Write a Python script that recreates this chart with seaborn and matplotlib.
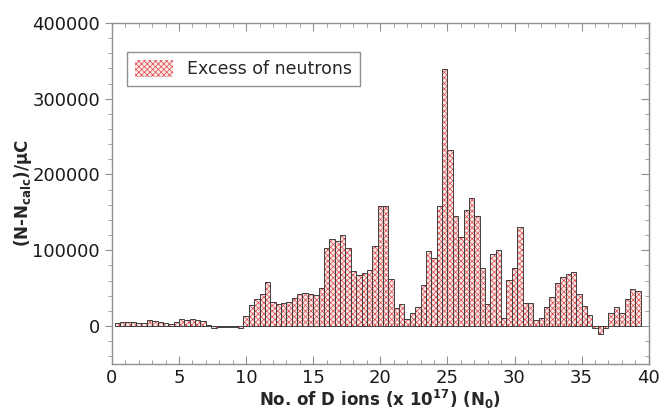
import numpy as np
import pandas as pd
import matplotlib
matplotlib.use('Agg')
import matplotlib.pyplot as plt
from matplotlib.ticker import MultipleLocator
import seaborn as sns

# bar centres: 0.4 .. 39.2 (units of 10^17 D ions), bin width 0.4
ions = np.round(np.arange(1, 99) * 0.4, 1)

excess = [4400, 5300, 5700, 5700, 4400, 4400, 7900, 7000, 5300, 4400,
          2600, 5700, 8800, 7900, 8800, 7900, 6600, 900, -2200, -1800,
          -1800, -1800, -1800, -3100, 13200, 28100, 35100, 43000, 58300, 32000,
          29400, 30700, 32000, 37300, 43000, 43900, 41700, 40400, 50400, 103000,
          115400, 111800, 120200, 103000, 72400, 67100, 70200, 74600, 105300, 158800,
          157900, 62300, 24100, 28500, 9600, 17500, 25400, 54800, 98700, 89900,
          158800, 339000, 232500, 144700, 117500, 153500, 168900, 144700, 76800, 28500,
          95200, 100000, 11000, 61400, 76800, 130700, 30300, 30300, 7900, 11000,
          25000, 38600, 57000, 64500, 69300, 71500, 41700, 26300, 14000, -2200,
          -10100, -2200, 17500, 25000, 16700, 35500, 49100, 46900]

df = pd.DataFrame({'ions': ions, 'excess': excess})

sns.set_style('white')
plt.rcParams['font.family'] = ['DejaVu Sans']
plt.rcParams['hatch.linewidth'] = 0.5

fig = plt.figure(figsize=(6.62, 4.16), dpi=100)
ax = fig.add_axes([0.169, 0.125, 0.811, 0.820])

# hatched fill
sns.barplot(data=df, x='ions', y='excess', native_scale=True, width=1,
            color='#fbe6e6', edgecolor='#e04848', hatch='xxxxxx', linewidth=0,
            errorbar=None, label='Excess of neutrons', ax=ax)
# dark outlines
sns.barplot(data=df, x='ions', y='excess', native_scale=True, width=1,
            fill=False, edgecolor='#404040', linewidth=0.7,
            errorbar=None, ax=ax)

ax.set_xlim(0, 40)
ax.set_ylim(-50000, 400000)
ax.xaxis.set_major_locator(MultipleLocator(5))
ax.xaxis.set_minor_locator(MultipleLocator(1))
ax.yaxis.set_major_locator(MultipleLocator(100000))
ax.yaxis.set_minor_locator(MultipleLocator(20000))

for s in ax.spines.values():
    s.set_color('#909090')
    s.set_linewidth(1.0)

ax.tick_params(axis='both', which='both', colors='#909090', labelcolor='#1a1a1a',
               labelsize=13)
ax.tick_params(axis='x', which='both', direction='in', top=True, bottom=True)
ax.tick_params(axis='x', which='major', length=6)
ax.tick_params(axis='x', which='minor', length=3)
ax.tick_params(axis='y', which='both', direction='out', left=True, right=False)
ax.tick_params(axis='y', which='major', length=5)
ax.tick_params(axis='y', which='minor', length=3)
ax2 = ax.secondary_yaxis('right')
ax2.yaxis.set_major_locator(MultipleLocator(100000))
ax2.yaxis.set_minor_locator(MultipleLocator(20000))
ax2.tick_params(which='both', direction='in', colors='#909090', labelright=False)
ax2.tick_params(which='major', length=6)
ax2.tick_params(which='minor', length=3)
ax2.spines['right'].set_color('#909090')

ax.set_xlabel(r'No. of D ions (x 10$^{\mathbf{17}}$) (N$_{\mathbf{0}}$)',
              fontsize=12, fontweight='bold', labelpad=1)
ax.set_ylabel(r'(N-N$_{\mathbf{calc}}$)/μC', fontsize=12, fontweight='bold',
              labelpad=-1)

leg = ax.legend(loc='upper left', bbox_to_anchor=(0.012, 0.94), fontsize=12.5,
                fancybox=False, edgecolor='#909090', framealpha=1,
                handlelength=2.2, handleheight=1.1, borderpad=0.45)
leg.get_frame().set_linewidth(1.0)

fig.savefig('out.png', dpi=100)
